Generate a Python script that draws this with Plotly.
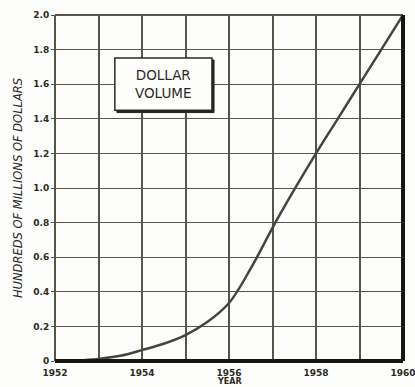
import plotly.graph_objects as go

# Dollar volume by year (hundreds of millions of dollars)
years = [1952, 1952.5, 1953, 1953.5, 1954, 1954.5, 1955, 1955.5, 1956,
         1956.5, 1957, 1957.5, 1958, 1958.5, 1959, 1959.5, 1960]
volume = [0.0, 0.003, 0.012, 0.03, 0.063, 0.1, 0.15, 0.225, 0.335,
          0.535, 0.77, 0.99, 1.2, 1.4, 1.6, 1.8, 2.0]

x_ticks = [1952, 1953, 1954, 1955, 1956, 1957, 1958, 1959, 1960]
x_labels = ["1952", "", "1954", "", "1956", "", "1958", "", "1960"]
y_ticks = [0, 0.2, 0.4, 0.6, 0.8, 1.0, 1.2, 1.4, 1.6, 1.8, 2.0]
y_labels = ["0", "0.2", "0.4", "0.6", "0.8", "1.0", "1.2", "1.4", "1.6", "1.8", "2.0"]

ink = "#2b2b25"
grid = "#55554a"
tick_font = dict(family="DejaVu Sans", size=9, color=ink, weight="bold")

fig = go.Figure()
fig.add_trace(go.Scatter(
    x=years, y=volume, mode="lines",
    line=dict(color="#45453d", width=2.5, shape="spline", smoothing=1.0),
    hoverinfo="skip", showlegend=False,
))

fig.update_layout(
    width=415, height=387,
    margin=dict(l=55, r=12, t=15, b=26),
    paper_bgcolor="#fdfdfb", plot_bgcolor="#fdfdfb",
    font=dict(family="DejaVu Sans", color=ink),
    xaxis=dict(
        range=[1952, 1960], tickvals=x_ticks, ticktext=x_labels,
        showgrid=True, gridcolor=grid, gridwidth=1.8,
        zeroline=False, showline=False, ticks="",
        tickfont=tick_font, ticklabelstandoff=5, automargin=False,
        ticklabeloverflow="allow",
    ),
    yaxis=dict(
        range=[0, 2.0], tickvals=y_ticks, ticktext=y_labels,
        showgrid=True, gridcolor=grid, gridwidth=1.4,
        zeroline=False, showline=False, ticks="outside", ticklen=3,
        tickcolor=grid, tickfont=tick_font, automargin=False,
        ticklabeloverflow="allow",
        title=dict(text="<i>HUNDREDS OF MILLIONS OF DOLLARS</i>",
                   font=dict(family="DejaVu Sans", size=11.5, color=ink), standoff=8),
    ),
)

# Axis title under the year labels
fig.add_annotation(xref="paper", yref="paper", x=0.5, y=-0.06,
                   xanchor="center", yanchor="middle", showarrow=False,
                   text="<b>YEAR</b>", font=dict(family="DejaVu Sans", size=8, color=ink))

# Frame: thin left and top edges, heavy bottom and right edges
fig.add_shape(type="line", xref="paper", yref="paper", x0=0, x1=0, y0=0, y1=1,
              line=dict(color=grid, width=2))
fig.add_shape(type="line", xref="paper", yref="paper", x0=0, x1=1, y0=1, y1=1,
              line=dict(color=grid, width=2))
fig.add_shape(type="line", xref="paper", yref="paper", x0=0, x1=1, y0=0, y1=0,
              line=dict(color="#151512", width=4))
fig.add_shape(type="line", xref="paper", yref="paper", x0=1, x1=1, y0=0, y1=1,
              line=dict(color="#151512", width=4))

# Caption box with drop shadow
fig.add_shape(type="rect", xref="paper", yref="paper",
              x0=0.178, x1=0.457, y0=0.718, y1=0.870,
              line=dict(color="#222", width=1), fillcolor="#222")
fig.add_shape(type="rect", xref="paper", yref="paper",
              x0=0.172, x1=0.451, y0=0.725, y1=0.876,
              line=dict(color="#2b2b25", width=1.5), fillcolor="#fdfdfb")
fig.add_annotation(xref="paper", yref="paper", x=0.3115, y=0.800,
                   xanchor="center", yanchor="middle",
                   text="DOLLAR<br>VOLUME", showarrow=False,
                   font=dict(family="DejaVu Sans", size=13.5, color=ink),
                   align="center")

fig.write_html("out.html")
